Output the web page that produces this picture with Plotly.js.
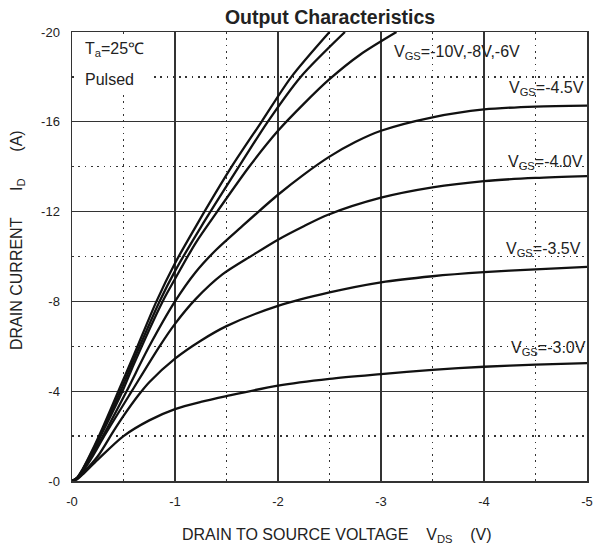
<!DOCTYPE html>
<html>
<head>
<meta charset="utf-8">
<script src="https://cdn.plot.ly/plotly-3.0.1.min.js"></script>
<style>html,body{margin:0;padding:0;background:#fff;}#chart{width:594px;height:554px;}</style>
</head>
<body>
<div id="chart"></div>
<script>
// Drain-source voltage (V) and drain current (A) for each gate voltage
const vds_m10 = [0,-0.05,-0.1,-0.2,-0.3,-0.45,-0.6,-0.82,-1.0,-1.21,-1.55,-1.84,-2.13,-2.5];
const id_m10  = [0,-0.15,-0.5,-1.4,-2.4,-4.0,-5.6,-8.0,-9.7,-11.4,-14.0,-16.0,-18.0,-20.0];

const vds_m8 = [0,-0.05,-0.1,-0.2,-0.3,-0.47,-0.6,-0.85,-1.0,-1.25,-1.62,-1.9,-2.22,-2.65];
const id_m8  = [0,-0.14,-0.48,-1.35,-2.3,-4.0,-5.4,-8.0,-9.35,-11.3,-14.0,-16.0,-18.0,-20.0];

const vds_m6 = [0,-0.05,-0.1,-0.2,-0.3,-0.49,-0.6,-0.88,-1.0,-1.2,-1.41,-1.72,-2.0,-2.25,-2.5,-2.8,-3.15];
const id_m6  = [0,-0.13,-0.45,-1.3,-2.2,-4.0,-5.2,-8.0,-9.0,-10.6,-12.0,-14.0,-15.6,-16.8,-17.9,-19.0,-20.0];

const vds_m45 = [0,-0.05,-0.1,-0.2,-0.3,-0.53,-0.75,-1.0,-1.2,-1.4,-1.64,-2.0,-2.25,-2.5,-2.75,-3.0,-3.5,-4.0,-4.5,-5.0];
const id_m45  = [0,-0.12,-0.42,-1.2,-2.0,-4.0,-6.0,-8.0,-9.3,-10.3,-11.3,-12.75,-13.65,-14.45,-15.1,-15.6,-16.2,-16.55,-16.68,-16.72];

const vds_m40 = [0,-0.05,-0.1,-0.2,-0.3,-0.58,-0.85,-1.0,-1.2,-1.46,-1.75,-2.0,-2.25,-2.48,-3.0,-3.5,-4.0,-4.5,-5.0];
const id_m40  = [0,-0.12,-0.4,-1.1,-1.9,-4.0,-6.0,-7.0,-8.1,-9.2,-10.05,-10.75,-11.35,-11.85,-12.62,-13.08,-13.36,-13.5,-13.58];

const vds_m35 = [0,-0.05,-0.1,-0.25,-0.4,-0.5,-0.65,-0.75,-1.0,-1.25,-1.5,-2.0,-2.5,-3.0,-3.5,-4.0,-4.5,-5.0];
const id_m35  = [0,-0.1,-0.32,-1.1,-2.2,-2.9,-3.85,-4.4,-5.45,-6.25,-6.9,-7.8,-8.4,-8.85,-9.12,-9.3,-9.43,-9.54];

const vds_m30 = [0,-0.05,-0.1,-0.25,-0.5,-0.75,-1.0,-1.25,-1.5,-2.0,-2.5,-3.0,-3.5,-4.0,-4.5,-5.0];
const id_m30  = [0,-0.08,-0.28,-0.95,-2.0,-2.7,-3.2,-3.52,-3.78,-4.25,-4.55,-4.76,-4.95,-5.09,-5.18,-5.25];

// Tick values and labels
const xTickVals = [0,-1,-2,-3,-4,-5];
const xTickText = ['-0','-1','-2','-3','-4','-5'];
const xMinorVals = [-0.5,-1.5,-2.5,-3.5,-4.5];
const yTickVals = [0,-4,-8,-12,-16,-20];
const yTickText = ['-0','-4','-8','-12','-16','-20'];
const yMinorVals = [-2,-6,-10,-14,-18];

const FONT = 'Liberation Sans, Arial, Helvetica, sans-serif';
const curves = [
  [vds_m10, id_m10, 'VGS=-10V'],
  [vds_m8, id_m8, 'VGS=-8V'],
  [vds_m6, id_m6, 'VGS=-6V'],
  [vds_m45, id_m45, 'VGS=-4.5V'],
  [vds_m40, id_m40, 'VGS=-4.0V'],
  [vds_m35, id_m35, 'VGS=-3.5V'],
  [vds_m30, id_m30, 'VGS=-3.0V']
];
const traces = curves.map(c => ({
  x: c[0], y: c[1], name: c[2], type: 'scatter', mode: 'lines',
  line: {color: '#111', width: 2.3, shape: 'spline', smoothing: 0.8},
  hoverinfo: 'x+y+name'
}));

const NB = '\u00a0';
const lblFont = {family: FONT, size: 16, color: '#222'};
const ann = (text, x, y) => ({text, x, y, xref: 'x', yref: 'y', xanchor: 'left', yanchor: 'middle', showarrow: false, font: lblFont, borderpad: 0});

const layout = {
  width: 594, height: 554,
  margin: {l: 72, r: 7, t: 32, b: 73},
  paper_bgcolor: '#fff', plot_bgcolor: '#fff',
  showlegend: false,
  title: {text: '<b>Output Characteristics</b>', x: 330/594, xanchor: 'center', y: 1 - 17/554, yanchor: 'middle',
          font: {family: FONT, size: 19.5, color: '#222'}},
  xaxis: {
    range: [0, -5], tickmode: 'array', tickvals: xTickVals, ticktext: xTickText,
    showgrid: true, gridcolor: '#333', gridwidth: 1.3,
    showline: true, linecolor: '#333', linewidth: 1.5, mirror: true,
    zeroline: false, ticks: '', ticklabelstandoff: 8,
    tickfont: {family: FONT, size: 13, color: '#222'},
    minor: {tickmode: 'array', tickvals: xMinorVals, showgrid: true, gridcolor: '#333', gridwidth: 1.5, griddash: '1.6px,4.7px', ticks: ''}
  },
  yaxis: {
    range: [0, -20], tickmode: 'array', tickvals: yTickVals, ticktext: yTickText,
    showgrid: true, gridcolor: '#333', gridwidth: 1.3,
    showline: true, linecolor: '#333', linewidth: 1.5, mirror: true,
    zeroline: false, ticks: '', ticklabelstandoff: 8,
    tickfont: {family: FONT, size: 13, color: '#222'},
    minor: {tickmode: 'array', tickvals: yMinorVals, showgrid: true, gridcolor: '#333', gridwidth: 1.5, griddash: '1.6px,4.7px', ticks: ''}
  },
  shapes: [
    {type: 'rect', xref: 'paper', yref: 'paper', x0: 2/515, x1: 77/515, y0: (481-95)/449, y1: (481-37)/449,
     fillcolor: '#fff', line: {width: 0}, layer: 'above'}
  ],
  annotations: [
    ann('T<sub>a</sub>=25℃', -0.116, -19.2),
    ann('Pulsed', -0.116, -17.9),
    ann('V<sub>GS</sub>=-10V,-8V,-6V', -3.115, -19.1),
    ann('V<sub>GS</sub>=-4.5V', -4.23, -17.5),
    ann('V<sub>GS</sub>=-4.0V', -4.22, -14.17),
    ann('V<sub>GS</sub>=-3.5V', -4.2, -10.29),
    ann('V<sub>GS</sub>=-3.0V', -4.25, -5.92),
    {text: 'DRAIN TO SOURCE VOLTAGE' + NB.repeat(4) + 'V<sub>DS</sub>' + NB.repeat(4) + '(V)',
     xref: 'paper', yref: 'paper', x: (337-72)/515, y: (481-535)/449, xanchor: 'center', yanchor: 'middle',
     showarrow: false, font: lblFont},
    {text: 'DRAIN CURRENT' + NB.repeat(6) + 'I<sub>D</sub>' + NB.repeat(6) + '(A)',
     xref: 'paper', yref: 'paper', x: (17-72)/515, y: (481-240)/449, xanchor: 'center', yanchor: 'middle',
     textangle: -90, showarrow: false, font: lblFont}
  ]
};

Plotly.newPlot('chart', traces, layout, {displayModeBar: false, staticPlot: true});
</script>
</body>
</html>
